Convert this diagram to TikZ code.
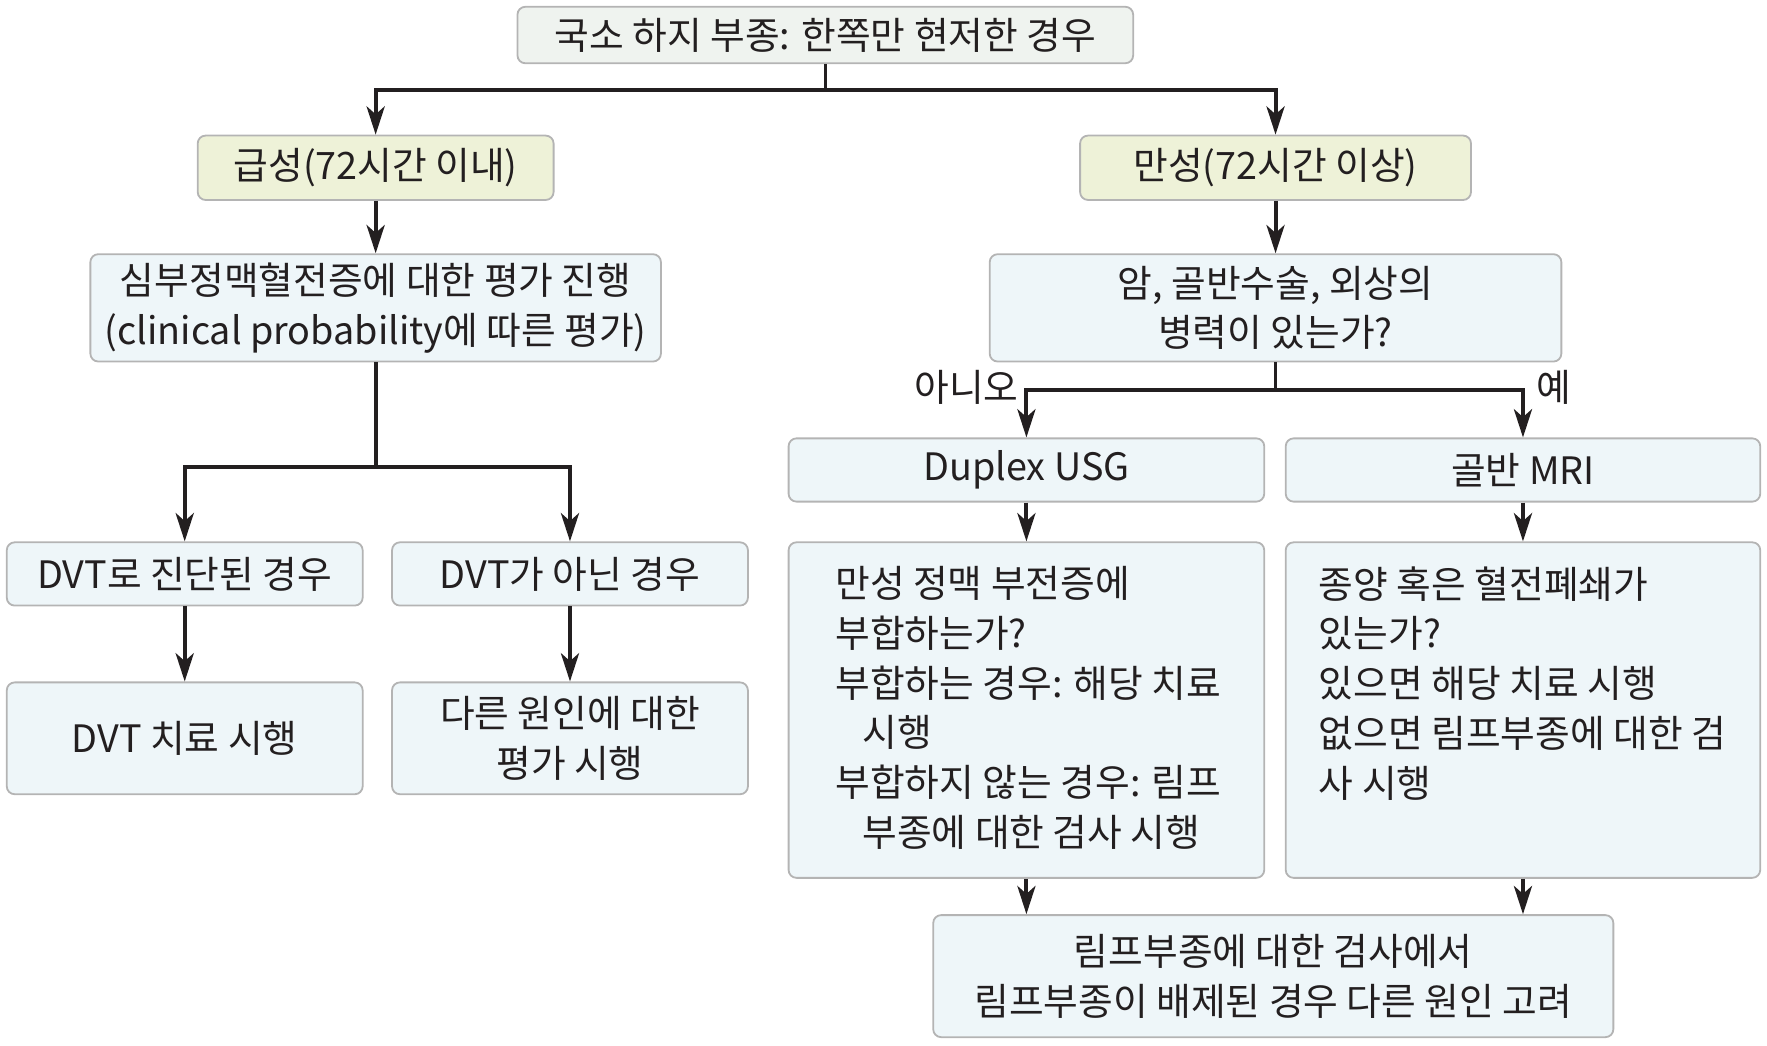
\documentclass[tikz,border=0pt]{standalone}
\usepackage{fontspec}
\setmainfont{Noto Sans CJK KR}
\usepackage{tikz}
\usetikzlibrary{arrows.meta}
\usetikzlibrary{positioning}

\definecolor{boxblue}{HTML}{EEF6F9}
\definecolor{boxyellow}{HTML}{EEF2D8}
\definecolor{boxgrey}{HTML}{EFF3EF}
\definecolor{edge}{HTML}{B4B4B4}
\definecolor{ink}{HTML}{231F20}

\begin{document}
\begin{tikzpicture}[x=0.5pt,y=-0.5pt,
    font=\fontsize{16.7}{22}\selectfont, text=ink,
    box/.style={draw=edge,line width=0.8pt,fill=boxblue,rounded corners=3.5pt,inner sep=0pt,align=center},
    line/.style={draw=ink,line width=1.8pt},
    arr/.style={line,-{Stealth[length=12.5pt,width=8pt,inset=3.5pt]}},
    stem/.style={draw=ink,line width=1.2pt}]
          \useasboundingbox (0,0) rectangle (1564,925);
          % top and the two branches
          \node[box,fill=boxgrey,minimum width=272.5pt,minimum height=25pt] (top) at (730.5,31) {국소 하지 부종: 한쪽만 현저한 경우};
          \node[box,fill=boxyellow,minimum width=157.5pt,minimum height=28.5pt] (acute) at (332.5,148.5) {급성(72시간 이내)};
          \node[box,fill=boxyellow,minimum width=173pt,minimum height=28.5pt] (chronic) at (1129,148.5) {만성(72시간 이상)};
          \node[box,minimum width=252.5pt,minimum height=47.5pt] (dvteval) at (332.5,272.5) {심부정맥혈전증에 대한 평가 진행\\(clinical probability에 따른 평가)};
          \node[box,minimum width=253pt,minimum height=47.5pt] (risk) at (1129,272.5) {암, 골반수술, 외상의\\병력이 있는가?};

          % acute side
          \node[box,minimum width=157.5pt,minimum height=28pt] (dvtyes) at (163.5,508) {DVT로 진단된 경우};
          \node[box,minimum width=157.5pt,minimum height=28pt] (dvtno) at (504.5,508) {DVT가 아닌 경우};
          \node[box,minimum width=157.5pt,minimum height=49.5pt] (dvttx) at (163.5,653.5) {DVT 치료 시행};
          \node[box,minimum width=157.5pt,minimum height=49.5pt] (other) at (504.5,653.5) {다른 원인에 대한\\평가 시행};

          % chronic side
          \node[box,minimum width=210.5pt,minimum height=28pt] (duplex) at (908.5,416) {Duplex USG};
          \node[box,minimum width=210pt,minimum height=28pt] (mri) at (1348,416) {골반 MRI};
          \node[box,minimum width=210.5pt,minimum height=148.5pt] (cvi) at (908.5,628.5) {};
          \node[box,minimum width=210pt,minimum height=148.5pt] (tumor) at (1348,628.5) {};
          \node[anchor=north west,inner sep=0pt,align=left] (cvitext) at (739,501) {만성 정맥 부전증에\\부합하는가?\\부합하는 경우: 해당 치료\\\hspace*{12pt}시행\\부합하지 않는 경우: 림프\\\hspace*{12pt}부종에 대한 검사 시행};
          \node[anchor=north west,inner sep=0pt,align=left] (tumortext) at (1167,501) {종양 혹은 혈전폐쇄가\\있는가?\\있으면 해당 치료 시행\\없으면 림프부종에 대한 검\\사 시행};
          \node[box,minimum width=301pt,minimum height=54pt] (lymph) at (1127,864) {림프부종에 대한 검사에서\\림프부종이 배제된 경우 다른 원인 고려};

          % connectors
          \coordinate (split1) at (730.5,80);
          \draw[stem] (top) -- (split1);
          \draw[arr] (split1) -| (acute);
          \draw[arr] (split1) -| (chronic);
          \draw[arr] (acute) -- (dvteval);
          \draw[arr] (chronic) -- (risk);

          \coordinate (split2) at (332.5,413);
          \draw[line] (dvteval) -- (split2);
          \draw[arr] (split2) -| (dvtyes);
          \draw[arr] (split2) -| (dvtno);
          \draw[arr] (dvtyes) -- (dvttx);
          \draw[arr] (dvtno) -- (other);

          \coordinate (split3) at (1129,345);
          \draw[stem] (risk) -- (split3);
          \draw[arr] (split3) -| (duplex);
          \draw[arr] (split3) -| (mri);
          \node[anchor=east,inner sep=0pt] (no) at (902,343) {아니오};
          \node[anchor=west,inner sep=0pt] (yes) at (1360,343) {예};
          \draw[arr] (duplex) -- (cvi);
          \draw[arr] (mri) -- (tumor);
          \draw[arr] (cvi.south) -- (cvi.south |- lymph.north);
          \draw[arr] (tumor.south) -- (tumor.south |- lymph.north);
\end{tikzpicture}
\end{document}
